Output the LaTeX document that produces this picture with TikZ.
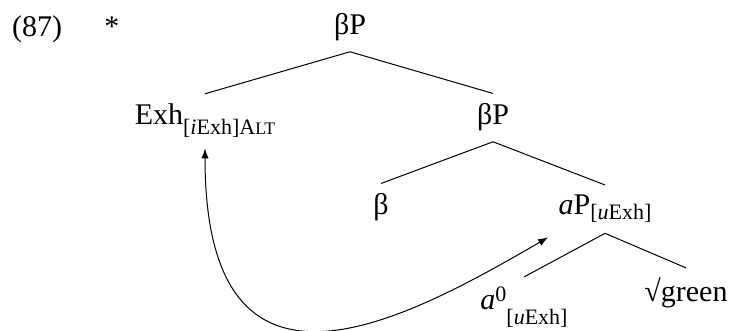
\documentclass[tikz,border=0pt]{standalone}
\usepackage{fontspec}
\setmainfont{Liberation Serif}
\usetikzlibrary{arrows.meta}

\newcommand{\sml}{\fontsize{11}{13}\selectfont}
\newcommand{\lo}[2]{\raisebox{-#1}{\sml #2}}
\newcommand{\hi}[2]{\raisebox{#1}{\sml #2}}

\tikzset{
  lbl/.style={anchor=base, inner xsep=0pt, inner ysep=5pt},
  branch/.style={line width=0.5pt},
  move/.style={line width=0.5pt, {Latex[length=5pt,width=3.6pt]}-{Latex[length=5pt,width=3.6pt]}},
}

\begin{document}
\begin{tikzpicture}[x=0.5pt,y=0.5pt,font=\fontsize{15}{18}\selectfont]
\useasboundingbox (0,0) rectangle (736,331);
% example number and star
\node[lbl] (num) at (37,294) {(87)};
\node[lbl] (star) at (112,294) {*};
% tree
\node[lbl] (bp1) at (350,296) {βP};
\node[lbl] (exh) at (205,206) {Exh\lo{5pt}{[\textit{i}Exh]A\scalebox{0.8}{LT}}};
\node[lbl] (bp2) at (493,206) {βP};
\node[lbl] (b) at (381,116) {β};
\node[lbl] (ap) at (605,116) {\textit{a}P\lo{2.5pt}{[\textit{u}Exh]}};
\node[lbl] (a0) at (524,21) {\textit{a}\hi{4pt}{0}\lo{7.5pt}{[\textit{u}Exh]}};
\node[lbl] (green) at (686,29) {√green};
\draw[branch] (bp1.south) -- (exh.north);
\draw[branch] (bp1.south) -- (bp2.north);
\draw[branch] (bp2.south) -- (b.north);
\draw[branch] (bp2.south) -- (ap.north);
\draw[branch] (ap.south) -- (a0.north);
\draw[branch] (ap.south) -- (green.north);
% movement arrow
\draw[move] (exh.south) .. controls +(0,-282) and +(-143,-83) .. ([xshift=-5pt,yshift=-2pt]ap.south west);
\end{tikzpicture}
\end{document}
